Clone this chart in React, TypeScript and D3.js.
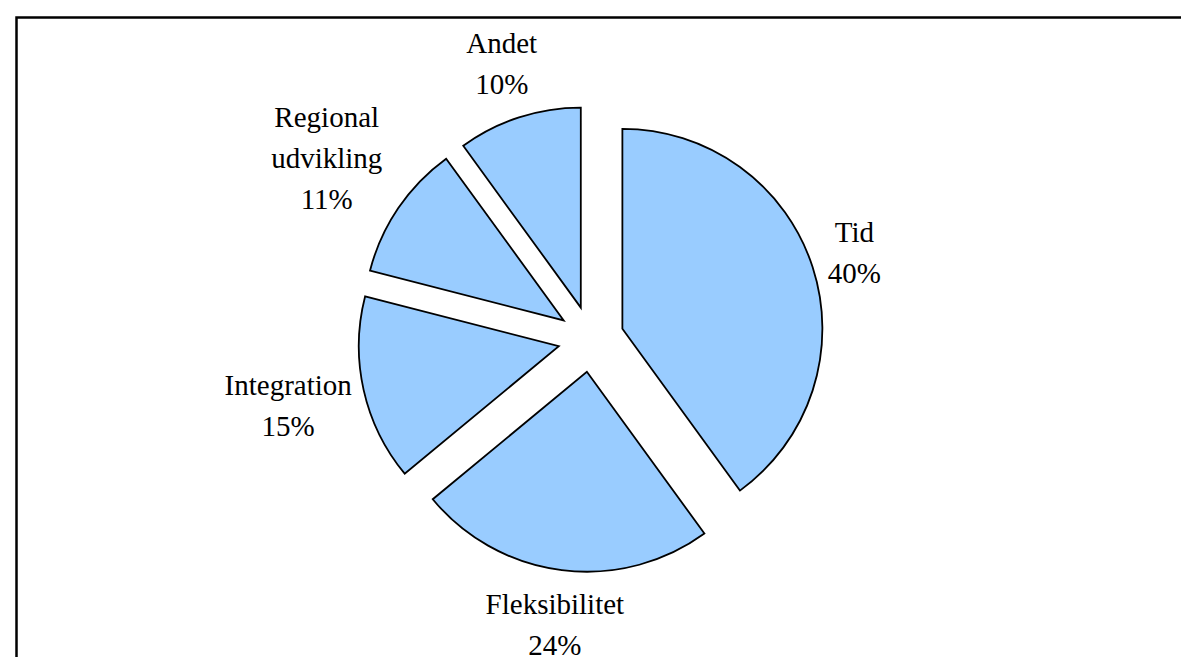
import * as d3 from "d3";
import { useEffect, useRef } from "react";

// slice names and shares (%), clockwise from 12 o'clock
const categories = ["Tid", "Fleksibilitet", "Integration", "Regional udvikling", "Andet"];
const values = [40, 24, 15, 11, 10];

const App = () => {
  const ref = useRef<SVGSVGElement>(null);

  useEffect(() => {
    const width = 1181,
      height = 657;
    const cx = 591,
      cy = 339,
      radius = 200,
      explode = 33,
      gap = 6,
      lineHeight = 41;

    const svg = d3.select(ref.current);
    svg.selectAll("*").remove();

    // outer frame (runs off the right and bottom edge)
    svg
      .append("rect")
      .attr("x", 16.5)
      .attr("y", 17.5)
      .attr("width", width + 40)
      .attr("height", height + 40)
      .attr("fill", "none")
      .attr("stroke", "#000")
      .attr("stroke-width", 2.5);

    const total = d3.sum(values);
    const pie = d3
      .pie<number>()
      .sort(null)
      .startAngle(0)
      .endAngle(2 * Math.PI)
      .value((d) => d);
    const arcs = pie(values);
    const arc = d3.arc<d3.PieArcDatum<number>>().innerRadius(0).outerRadius(radius);

    const g = svg.append("g").attr("transform", `translate(${cx},${cy})`);

    arcs.forEach((a, i) => {
      const mid = (a.startAngle + a.endAngle) / 2;
      const dx = Math.sin(mid),
        dy = -Math.cos(mid);
      const ox = dx * explode,
        oy = dy * explode;

      g.append("path")
        .attr("d", arc(a))
        .attr("transform", `translate(${ox},${oy})`)
        .attr("fill", "#99CCFF")
        .attr("stroke", "#000")
        .attr("stroke-width", 1.8)
        .attr("stroke-linejoin", "miter");

      // label: name (wrapped by word when long) + percent
      const name = categories[i];
      const words = name.split(" ");
      const lines = words.length > 1 ? words : [name];
      lines.push(`${Math.round((values[i] / total) * 100)}%`);

      const t = g
        .append("text")
        .attr("font-family", "'Liberation Serif', 'Times New Roman', serif")
        .attr("font-size", 29)
        .attr("fill", "#000")
        .attr("text-anchor", "middle");
      lines.forEach((ln, k) => {
        t.append("tspan").attr("x", 0).attr("y", k * lineHeight).text(ln);
      });
      const bb = (t.node() as SVGTextElement).getBBox();
      const w = bb.width,
        h = lines.length * lineHeight;
      const dist = radius + gap + Math.abs(dx) * (w / 2) + Math.abs(dy) * (h / 2);
      const tx = ox + dx * dist;
      const ty = oy + dy * dist;
      // first baseline so that the block is centred on (tx, ty)
      const top = ty - h / 2;
      t.attr("transform", `translate(${tx},${top + lineHeight * 0.72})`);
    });
  }, []);

  return (
    <svg
      ref={ref}
      width={1181}
      height={657}
      style={{ position: "absolute", left: 0, top: 0, background: "#fff" }}
    />
  );
};

export default App;
